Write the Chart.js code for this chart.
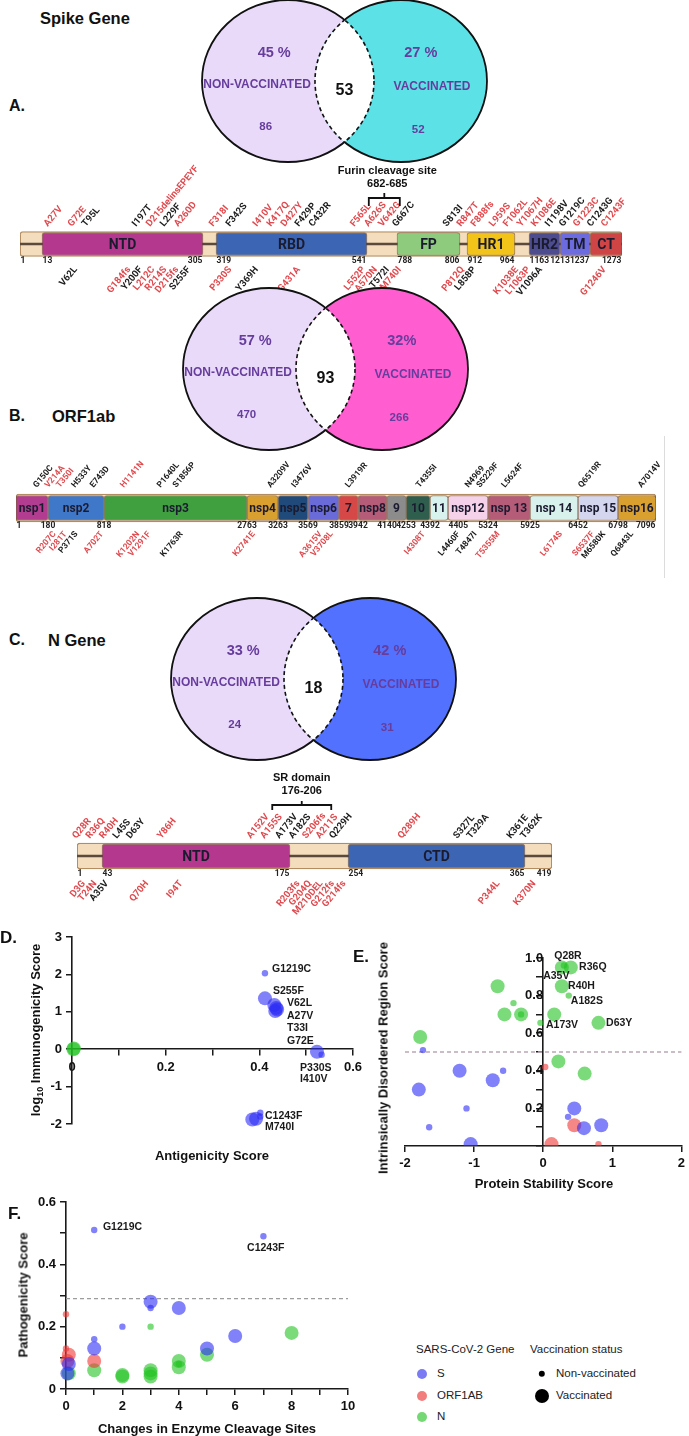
<!DOCTYPE html>
<html>
<head>
<meta charset="utf-8">
<title>SARS-CoV-2 mutations – vaccinated vs non-vaccinated</title>
<script src="https://cdn.jsdelivr.net/npm/chart.js@4.4.1/dist/chart.umd.min.js"></script>
<style>
  html, body { margin: 0; padding: 0; background: #fff; }
  #fig { position: relative; width: 689px; height: 1436px; overflow: hidden; background: #fff;
         font-family: "Liberation Sans", Arial, Helvetica, sans-serif; }
  #fig canvas { position: absolute; }
  .t { position: absolute; white-space: nowrap; font-weight: bold; color: #111; line-height: 1; }
  .sb { font-size: 9px; position: relative; top: 3px; }
  .dot { position: absolute; border-radius: 50%; transform: translate(-50%, -50%); }
  .edge { position: absolute; width: 1px; background: #dcdcdc; }
</style>
</head>
<body>
<div id="fig"></div>
<script>
// ======================= DATA =======================
// Venn diagrams: [non-vaccinated only, shared, vaccinated only]
const vennSets = ['NON-VACCINATED', 'VACCINATED'];
const spikeVennCounts = [86, 53, 52];
const spikeVennPct = ['45 %', '27 %'];
const orfVennCounts = [470, 93, 266];
const orfVennPct = ['57 %', '32%'];
const nVennCounts = [24, 18, 31];
const nVennPct = ['33 %', '42 %'];

// Spike gene map
const spikeLength = 1273;
const spikeDomains = ['NTD', 'RBD', 'FP', 'HR1', 'HR2', 'TM', 'CT'];
const spikeDomainStart = [13, 319, 788, 912, 1163, 1213, 1237];
const spikeDomainEnd = [305, 541, 806, 964, 1213, 1237, 1273];
const spikeTicks = [1, 13, 305, 319, 541, 788, 806, 912, 964, 1163, 1213, 1237, 1273];
const spikeFurin = [682, 685];
const spikeMutAbove = ['A27V','G72E','T95L','I197T','D215delinsEPEYF','L229F','A260D','F318I','F342S','I410V','K417Q','D427Y','F429P','C432R','F565L','A626S','V642G','G667C','S813I','R847T','F888fs','L959S','F1062L','Y1067H','K1086E','I1198V','G1219C','G1223C','C1243G','C1243F'];
const spikeMutAboveHi = [1,1,0,0,1,0,1,1,0,1,1,1,0,0,1,1,1,0,0,1,1,1,1,1,1,0,0,1,0,1];
const spikeMutBelow = ['V62L','G184fs','Y200F','L212C','R214S','D215fs','S255F','P330S','Y369H','G431A','L552P','A570N','T572I','M740I','P812Q','L858P','K1038E','L1063P','V1096A','G1246V'];
const spikeMutBelowHi = [0,1,0,1,1,1,0,1,0,1,1,1,0,1,1,0,1,1,0,1];

// ORF1ab gene map
const orfLength = 7096;
const orfDomains = ['nsp1','nsp2','nsp3','nsp4','nsp5','nsp6','7','nsp8','9','10','11','nsp12','nsp 13','nsp 14','nsp 15','nsp16'];
const orfBounds = [1, 180, 818, 2763, 3263, 3569, 3859, 3942, 4140, 4253, 4392, 4405, 5324, 5925, 6452, 6798, 7096];
const orfMutAbove = ['G150C','V214A','T350I','H533Y','E743D','H1141N','P1640L','S1856P','A3209V','I3476V','L3919R','T4355I','N4969','S5229F','L5624F','Q6519R','A7014V'];
const orfMutAboveHi = [0,1,1,0,0,1,0,0,0,0,0,0,0,0,0,0,0];
const orfMutBelow = ['R207C','I281T','P371S','A702T','K1202N','V1291F','K1763R','K2741E','A3615V','V3708L','I4308T','L4460F','T4847I','T5355M','L6174S','M6580K','S6537F','Q6843L'];
const orfMutBelowHi = [1,1,0,1,1,1,0,1,1,1,1,0,0,1,1,0,1,0];

// N gene map
const nLength = 419;
const nDomains = ['NTD', 'CTD'];
const nDomainStart = [43, 254];
const nDomainEnd = [175, 365];
const nTicks = [1, 43, 175, 254, 365, 419];
const nSR = [176, 206];
const nMutAbove = ['Q28R','R36Q','R40H','L45S','D63Y','Y86H','A152V','A155S','A173V','A182S','S206fs','A211S','Q229H','Q289H','S327L','T329A','K361E','T362K'];
const nMutAboveHi = [1,1,1,0,0,1,1,1,0,0,1,1,0,1,0,0,0,0];
const nMutBelow = ['D3G','T24N','A35V','Q70H','I94T','R203fs','G204Q','M210DEL','G212fs','G214fs','P344L','K370N'];
const nMutBelowHi = [1,1,0,1,1,1,1,1,1,1,1,1];

// Bubble panels: [x, y, status] with status n = non-vaccinated, v = vaccinated
const geneNames = ['S', 'ORF1AB', 'N'];
const statusNames = ['Non-vaccinated', 'Vaccinated'];

// D: antigenicity vs log10 immunogenicity
const dS = [[0.412,2.03,'n'],[0.412,1.36,'v'],[0.432,1.18,'v'],[0.436,1.10,'v'],[0.434,1.02,'v'],[0.438,1.06,'v'],
            [0.523,-0.07,'v'],[0.533,-0.15,'n'],[0.385,-1.88,'v'],[0.393,-1.86,'v'],[0.402,-1.70,'n'],[0.402,-1.80,'n']];
const dORF = [];
const dN = [[0.003,0.0,'v'],[0.004,0.02,'v']];
const dLabels = [['G1219C',0.427,2.13],['S255F',0.429,1.55],['V62L',0.459,1.23],['A27V',0.459,0.88],['T33I',0.459,0.56],
                 ['G72E',0.459,0.21],['P330S',0.487,-0.51],['I410V',0.487,-0.80],['C1243F',0.412,-1.79],['M740I',0.412,-2.08]];

// E: protein stability vs intrinsically disordered region score
const eS = [[-1.74,0.51,'n'],[-1.80,0.30,'v'],[-1.65,0.10,'n'],[-1.21,0.40,'v'],[-1.11,0.20,'n'],[-1.05,0.01,'v'],
            [-0.73,0.35,'v'],[-0.58,0.40,'n'],[0.45,0.20,'v'],[0.36,0.155,'n'],[0.59,0.095,'v'],[0.84,0.11,'v']];
const eORF = [[0.03,0.42,'n'],[0.45,0.11,'v'],[0.12,0.01,'v'],[0.80,0.01,'n']];
const eN = [[0.27,0.95,'v'],[0.40,0.95,'v'],[0.30,0.96,'n'],[0.27,0.85,'v'],[0.37,0.80,'n'],[-0.66,0.85,'v'],
            [-0.43,0.76,'n'],[-0.56,0.70,'v'],[-0.32,0.70,'v'],[-0.32,0.70,'n'],[0.16,0.70,'v'],[-0.04,0.655,'n'],
            [0.80,0.655,'v'],[-1.78,0.58,'v'],[0.22,0.45,'v'],[0.60,0.385,'v']];
const eLabels = [['Q28R',0.16,1.01],['R36Q',0.52,0.95],['A35V',0.0,0.905],['R40H',0.36,0.85],['A182S',0.40,0.77],
                 ['A173V',0.04,0.645],['D63Y',0.91,0.655]];
const eThreshold = 0.5;

// F: changes in enzyme cleavage sites vs pathogenicity
const fS = [[1,0.51,'n'],[7,0.49,'n'],[3,0.28,'v'],[3,0.26,'n'],[4,0.26,'v'],[2,0.20,'n'],[1,0.16,'n'],[1,0.13,'v'],
            [6,0.17,'v'],[5,0.13,'v'],[0.1,0.08,'v'],[0.05,0.05,'v']];
const fORF = [[0,0.24,'n'],[0.1,0.11,'v'],[0.05,0.09,'v'],[1,0.09,'v'],[0,0.13,'n']];
const fN = [[3,0.20,'n'],[8,0.18,'v'],[5,0.11,'v'],[4,0.09,'v'],[4,0.08,'n'],[4,0.07,'v'],[3,0.06,'v'],[3,0.05,'v'],
            [3,0.04,'v'],[2,0.04,'v'],[2,0.045,'v'],[1,0.06,'v'],[0.1,0.05,'v']];
const fLabels = [['G1219C',1.31,0.52],['C1243F',6.42,0.452]];
const fThreshold = 0.29;

// ======================= STYLE / LAYOUT =======================
const FONT = '"Liberation Sans", Arial, Helvetica, sans-serif';
const MAPFONT = 'Roboto, "Liberation Sans", Arial, sans-serif';
const RED = '#e04a4f', DARK = '#1c1c1c', PURPLE = '#663d9c';
const GENE_FILL = ['rgba(45,45,245,0.6)', 'rgba(240,55,55,0.6)', 'rgba(35,195,35,0.6)'];
const GENE_SWATCH = ['#7b7bf3', '#f27d7d', '#74d874'];
const STATUS_R = {n: 3.2, v: 7};
const ANG = 50 * Math.PI / 180;
const TAN = '#f3ddbd', TAN_EDGE = '#b38c62';

Chart.defaults.font.family = FONT;
Chart.defaults.color = '#111';

const fig = document.getElementById('fig');
function makeCanvas(left, top, w, h, key) {
  const c = document.createElement('canvas');
  c.width = w; c.height = h;
  c.style.left = left + 'px'; c.style.top = top + 'px';
  c.style.width = w + 'px'; c.style.height = h + 'px';
  if (key) c.dataset.map = key;
  fig.appendChild(c);
  return c;
}
function addText(html, x, y, o = {}) {
  const d = document.createElement('div');
  d.className = 't';
  d.innerHTML = html;
  const s = d.style;
  s.left = x + 'px'; s.top = y + 'px';
  s.fontSize = (o.size || 12) + 'px';
  if (o.weight) s.fontWeight = o.weight;
  if (o.color) s.color = o.color;
  const ax = o.ax === undefined ? 0.5 : o.ax;
  s.transform = `translate(${-ax * 100}%, -50%)` + (o.rot ? ` rotate(${o.rot}deg)` : '');
  fig.appendChild(d);
  return d;
}
const resNum = m => parseInt(m.match(/\d+/)[0], 10);

// ---------- custom schematic scale (piecewise residue -> position) ----------
const MAP_ANCHORS = {};
class SchematicScale extends Chart.LinearScale {
  _anc() { return MAP_ANCHORS[this.chart.canvas.dataset.map]; }
  getPixelForValue(v) {
    const a = this._anc();
    if (v === null || v === undefined || isNaN(v)) return NaN;
    let f;
    if (v <= a[0][0]) f = a[0][1];
    else if (v >= a[a.length - 1][0]) f = a[a.length - 1][1];
    else {
      for (let i = 1; i < a.length; i++) {
        if (v <= a[i][0]) { f = a[i-1][1] + (v - a[i-1][0]) / (a[i][0] - a[i-1][0]) * (a[i][1] - a[i-1][1]); break; }
      }
    }
    return this.getPixelForDecimal(f);
  }
  getValueForPixel(p) {
    const a = this._anc(), f = this.getDecimalForPixel(p);
    for (let i = 1; i < a.length; i++) {
      if (f <= a[i][1]) return a[i-1][0] + (f - a[i-1][1]) / (a[i][1] - a[i-1][1]) * (a[i][0] - a[i-1][0]);
    }
    return a[a.length - 1][0];
  }
}
SchematicScale.id = 'schematic';
SchematicScale.defaults = Chart.LinearScale.defaults;
Chart.register(SchematicScale);

// spread label anchors so rotated labels do not overlap
function spread(xs, d, lo, hi) {
  const idx = xs.map((x, i) => i).sort((a, b) => xs[a] - xs[b]);
  const p = idx.map(i => xs[i]);
  for (let it = 0; it < 400; it++) {
    let moved = false;
    for (let k = 0; k < p.length - 1; k++) {
      const gap = p[k + 1] - p[k];
      if (gap < d - 0.01) { const s = (d - gap) / 2; p[k] -= s; p[k + 1] += s; moved = true; }
    }
    for (let k = 0; k < p.length; k++) p[k] = Math.min(hi, Math.max(lo, p[k]));
    if (!moved) break;
  }
  const out = new Array(xs.length);
  idx.forEach((i, k) => { out[i] = p[k]; });
  return out;
}

// ---------- Venn diagrams ----------
const VENN = {rx: 86, ry: 81, half: 0.657, lw: 1.8};
const VENN_TXT = {pctL: [-0.16, -0.35], labL: [-0.36, 0.04], cntL: [-0.26, 0.57], shared: [0, 0.12],
                  pctR: [0.23, -0.35], labR: [0.36, 0.07], cntR: [0.20, 0.60]};
function vennPlugin(counts, pct, fills) {
  return {
    id: 'venn',
    afterDatasetsDraw(chart) {
      const ctx = chart.ctx, xs = chart.scales.x, ys = chart.scales.y;
      const pts = chart.getDatasetMeta(0).data;
      const cxL = pts[0].x, cxR = pts[1].x, cy = pts[0].y;
      const rx = xs.getPixelForValue(1) - xs.getPixelForValue(0);
      const ry = ys.getPixelForValue(0) - ys.getPixelForValue(1);
      const ell = cx => { const p = new Path2D(); p.ellipse(cx, cy, rx, ry, 0, 0, Math.PI * 2); return p; };
      const L = ell(cxL), R = ell(cxR);
      const outside = P => { const q = new Path2D(); q.rect(-5, -5, chart.width + 10, chart.height + 10); q.addPath(P); return q; };
      ctx.save();
      ctx.fillStyle = fills[0]; ctx.fill(L);
      ctx.fillStyle = fills[1]; ctx.fill(R);
      ctx.save(); ctx.clip(L); ctx.fillStyle = '#fff'; ctx.fill(R); ctx.restore();
      ctx.lineWidth = VENN.lw; ctx.strokeStyle = '#111';
      ctx.save(); ctx.clip(outside(R), 'evenodd'); ctx.stroke(L); ctx.restore();
      ctx.save(); ctx.clip(outside(L), 'evenodd'); ctx.stroke(R); ctx.restore();
      ctx.setLineDash([4, 3]); ctx.lineWidth = 1.6;
      ctx.save(); ctx.clip(L); ctx.stroke(R); ctx.restore();
      ctx.save(); ctx.clip(R); ctx.stroke(L); ctx.restore();
      ctx.setLineDash([]);
      ctx.textAlign = 'center'; ctx.textBaseline = 'middle';
      const put = (txt, key, ox, font, color) => {
        ctx.font = font; ctx.fillStyle = color;
        ctx.fillText(txt, ox + VENN_TXT[key][0] * rx, cy + VENN_TXT[key][1] * ry);
      };
      put(pct[0], 'pctL', cxL, `bold 14.5px ${FONT}`, PURPLE);
      put(vennSets[0], 'labL', cxL, `bold 12px ${FONT}`, PURPLE);
      put(String(counts[0]), 'cntL', cxL, `bold 11.5px ${FONT}`, PURPLE);
      put(String(counts[1]), 'shared', (cxL + cxR) / 2, `bold 16px ${FONT}`, '#111');
      put(pct[1], 'pctR', cxR, `bold 14.5px ${FONT}`, PURPLE);
      put(vennSets[1], 'labR', cxR, `bold 12px ${FONT}`, PURPLE);
      put(String(counts[2]), 'cntR', cxR, `bold 11.5px ${FONT}`, PURPLE);
      ctx.restore();
    }
  };
}
function drawVenn(midX, cy, counts, pct, fills) {
  const w = Math.round(2 * VENN.rx * (1 + VENN.half)) + 6, h = 2 * VENN.ry + 6;
  const c = makeCanvas(Math.round(midX - w / 2), Math.round(cy - h / 2), w, h);
  new Chart(c, {
    type: 'scatter',
    data: {datasets: [{data: [{x: -VENN.half, y: 0}, {x: VENN.half, y: 0}], pointRadius: 0}]},
    options: {
      responsive: false, animation: false, events: [],
      layout: {padding: 3},
      plugins: {legend: {display: false}, tooltip: {enabled: false}},
      scales: {x: {display: false, min: -(1 + VENN.half), max: 1 + VENN.half},
               y: {display: false, min: -1, max: 1}}
    },
    plugins: [vennPlugin(counts, pct, fills)]
  });
}

// ---------- Gene maps ----------
function geneMapPlugin(g) {
  return {
    id: 'geneMap',
    afterDatasetsDraw(chart) {
      const ctx = chart.ctx, xs = chart.scales.x;
      const cy = chart.scales.y.getPixelForValue(0);
      const top = cy - g.tanT / 2, bot = cy + g.tanT / 2;
      const area = chart.chartArea;
      ctx.save();
      ctx.textAlign = 'center'; ctx.textBaseline = 'middle';
      ctx.font = g.domainFont; ctx.fillStyle = '#1b1b30';
      g.names.forEach((n, i) => {
        ctx.fillText(n, (xs.getPixelForValue(g.starts[i]) + xs.getPixelForValue(g.ends[i])) / 2, cy + 1);
      });
      ctx.font = g.numFont; ctx.fillStyle = '#222';
      g.ticks.forEach((t, i) => {
        const al = g.tickAlign[i];
        ctx.textAlign = al;
        const px = xs.getPixelForValue(t) + (al === 'left' ? 0.5 : al === 'right' ? -0.5 : 0);
        ctx.fillText(String(t), px, bot + g.numGap);
      });
      ctx.font = g.mutFont;
      const drawSet = (names, hi, above) => {
        const raw = names.map(m => xs.getPixelForValue(resNum(m)));
        const pos = spread(raw, above ? g.dAbove : g.dBelow, area.left - 6, area.right + 8);
        names.forEach((m, i) => {
          ctx.save();
          ctx.fillStyle = hi[i] ? RED : DARK;
          if (above) {
            ctx.translate(pos[i] + g.dxAbove, top - g.gapAbove);
            ctx.rotate(-ANG); ctx.textAlign = 'left'; ctx.textBaseline = 'alphabetic';
          } else {
            ctx.translate(pos[i] + g.dxBelow, bot + g.gapBelow);
            ctx.rotate(-ANG); ctx.textAlign = 'right'; ctx.textBaseline = 'top';
          }
          ctx.fillText(m, 0, 0);
          ctx.restore();
        });
      };
      drawSet(g.above, g.aboveHi, true);
      drawSet(g.below, g.belowHi, false);
      if (g.bracket) {
        const mid = xs.getPixelForValue((g.bracket[0] + g.bracket[1]) / 2);
        const yb = top - g.bracketRise, w = g.bracketHalf;
        ctx.strokeStyle = '#111'; ctx.lineWidth = 1.8;
        ctx.beginPath();
        ctx.moveTo(mid - w, yb + g.bracketLeg); ctx.lineTo(mid - w, yb); ctx.lineTo(mid + w, yb); ctx.lineTo(mid + w, yb + g.bracketLeg);
        ctx.moveTo(mid, yb); ctx.lineTo(mid, yb - g.bracketNub);
        ctx.stroke();
      }
      ctx.restore();
    }
  };
}
function drawGeneMap(g) {
  const [left, top, w, h] = g.box;
  MAP_ANCHORS[g.key] = g.anchorRes.map((r, i) => [r, (g.anchorPx[i] - g.anchorPx[0]) / (g.anchorPx[g.anchorPx.length - 1] - g.anchorPx[0])]);
  const c = makeCanvas(left, top, w, h, g.key);
  const datasets = [{data: [[1, g.length]], backgroundColor: TAN, borderColor: TAN_EDGE, borderWidth: 1.3,
                     barThickness: g.tanT, borderRadius: 3, grouped: false, borderSkipped: false, order: 3}];
  if (g.backbone) datasets.push({data: [[1, g.length]], backgroundColor: '#5b4a3c', borderWidth: 0,
                                 barThickness: 2, grouped: false, order: 2});
  g.names.forEach((n, i) => datasets.push({
    data: [[g.starts[i], g.ends[i]]], backgroundColor: g.colors[i], borderColor: 'rgba(80,50,30,0.55)',
    borderWidth: 1, barThickness: g.boxT, borderRadius: 3, grouped: false, borderSkipped: false, order: 1
  }));
  return new Chart(c, {
    type: 'bar',
    data: {labels: ['gene'], datasets},
    options: {
      indexAxis: 'y', responsive: false, animation: false, events: [],
      layout: {padding: {left: g.anchorPx[0] - left, right: left + w - g.anchorPx[g.anchorPx.length - 1], top: 0, bottom: 0}},
      plugins: {legend: {display: false}, tooltip: {enabled: false}},
      scales: {x: {type: 'schematic', min: 1, max: g.length, display: false}, y: {display: false}}
    },
    plugins: [geneMapPlugin(g)]
  });
}

// ---------- Bubble panels ----------
function annotPlugin(labels, threshold, dashColor) {
  return {
    id: 'annot',
    beforeDatasetsDraw(chart) {
      if (threshold === null) return;
      const ctx = chart.ctx, a = chart.chartArea, py = chart.scales.y.getPixelForValue(threshold);
      ctx.save();
      ctx.strokeStyle = dashColor; ctx.lineWidth = 1.3; ctx.setLineDash([4, 3]);
      ctx.beginPath(); ctx.moveTo(a.left, py); ctx.lineTo(a.right, py); ctx.stroke();
      ctx.restore();
    },
    afterDatasetsDraw(chart) {
      const ctx = chart.ctx, xs = chart.scales.x, ys = chart.scales.y;
      ctx.save();
      ctx.font = `bold 10.5px ${FONT}`; ctx.fillStyle = '#1a1a1a';
      ctx.textAlign = 'left'; ctx.textBaseline = 'middle';
      labels.forEach(([t, lx, ly]) => ctx.fillText(t, xs.getPixelForValue(lx), ys.getPixelForValue(ly)));
      ctx.restore();
    }
  };
}
function axis(min, max, step, cb, extra) {
  return Object.assign({
    type: 'linear', min, max,
    grid: {display: true, drawOnChartArea: false, drawTicks: true, tickLength: 6, color: '#1a1a1a', lineWidth: 1.5},
    border: {display: true, color: '#1a1a1a', width: 1.6},
    ticks: {stepSize: step, callback: cb, font: {size: 13, weight: 'bold', family: FONT}, color: '#111',
            padding: 4, autoSkip: false, maxRotation: 0, minRotation: 0}
  }, extra || {});
}
const evenTenth = v => { const k = Math.round(v * 10); return k % 2 === 0 ? (k === 0 ? '0' : (k / 10).toFixed(1)) : ''; };
function bubblePanel(box, sets, scales, padding, labels, threshold, dashColor, clip) {
  const c = makeCanvas(...box);
  const datasets = sets.map((pts, i) => ({
    label: geneNames[i],
    data: pts.map(([x, y, s]) => ({x, y, r: STATUS_R[s]})),
    backgroundColor: GENE_FILL[i], borderWidth: 0, clip
  }));
  return new Chart(c, {
    type: 'bubble',
    data: {datasets},
    options: {
      responsive: false, animation: false, events: [],
      layout: {padding, autoPadding: false},
      plugins: {legend: {display: false}, tooltip: {enabled: false}},
      scales
    },
    plugins: [annotPlugin(labels, threshold, dashColor)]
  });
}

// ======================= BUILD =======================
// --- A: Spike ---
addText('Spike Gene', 40, 18, {size: 16.5, ax: 0});
addText('A.', 9, 106, {size: 16, ax: 0});
drawVenn(344.5, 81, spikeVennCounts, spikeVennPct, ['#e9dafa', '#5ce1e6']);
const spikeChart = drawGeneMap({
  key: 'spike', box: [0, 150, 689, 188], length: spikeLength,
  anchorRes: spikeTicks, anchorPx: [20, 42, 203, 216, 367, 397, 460, 467, 515, 529, 560, 590, 622],
  names: spikeDomains, starts: spikeDomainStart, ends: spikeDomainEnd,
  colors: ['#b3388e', '#3c66b3', '#8ecb7d', '#f2c41a', '#4c4c8e', '#6c6ce0', '#cf4545'],
  ticks: spikeTicks, tickAlign: ['left','left','right','left','right','left','right','left','right','left','center','right','right'],
  above: spikeMutAbove, aboveHi: spikeMutAboveHi, below: spikeMutBelow, belowHi: spikeMutBelowHi,
  tanT: 25, boxT: 23, backbone: true,
  domainFont: `bold 14px ${MAPFONT}`, numFont: `bold 8.5px ${MAPFONT}`, mutFont: `bold 9.5px ${MAPFONT}`,
  numGap: 4.5, gapAbove: 4.5, gapBelow: 8.5, dxAbove: -2, dxBelow: 3, dAbove: 14, dBelow: 12,
  bracket: spikeFurin, bracketRise: 33.5, bracketHalf: 15.5, bracketLeg: 8, bracketNub: 5
});
{
  const bx = spikeChart.scales.x.getPixelForValue((spikeFurin[0] + spikeFurin[1]) / 2) + 3;
  addText('Furin cleavage site', bx, 170, {size: 11});
  addText(spikeFurin.join('-'), bx, 183, {size: 11});
}

// --- B: ORF1ab ---
addText('B.', 9, 416, {size: 16, ax: 0});
addText('ORF1ab', 52, 416, {size: 16.5, ax: 0});
drawVenn(325.5, 369, orfVennCounts, orfVennPct, ['#e9dafa', '#ff5dd0']);
drawGeneMap({
  key: 'orf', box: [0, 436, 689, 144], length: orfLength,
  anchorRes: orfBounds, anchorPx: [16, 48, 104, 247, 278, 308, 339, 358, 387, 406, 430, 448, 488, 530, 578, 618, 656],
  names: orfDomains, starts: orfBounds.slice(0, -1), ends: orfBounds.slice(1),
  colors: ['#b23c8f', '#3f78c8', '#40a040', '#d9a030', '#1f4a7a', '#6a6ad8', '#d64848', '#b55c78', '#8c8c8c',
           '#2f5e4e', '#d8f2ee', '#f6d2ea', '#b55c78', '#d8f1ed', '#d4d6ef', '#d9a030'],
  ticks: orfBounds, tickAlign: orfBounds.map((b, i) => i === 0 ? 'left' : i === orfBounds.length - 1 ? 'right' : (b === 4405 ? 'left' : 'center')),
  above: orfMutAbove, aboveHi: orfMutAboveHi, below: orfMutBelow, belowHi: orfMutBelowHi,
  tanT: 28, boxT: 25, backbone: false,
  domainFont: `bold 12px ${MAPFONT}`, numFont: `bold 8.5px ${MAPFONT}`, mutFont: `bold 8.5px ${MAPFONT}`,
  numGap: 4, gapAbove: 6, gapBelow: 8, dxAbove: -4, dxBelow: 5, dAbove: 11.5, dBelow: 11
});
{
  const e = document.createElement('div');
  e.className = 'edge';
  Object.assign(e.style, {left: '664px', top: '436px', height: '142px'});
  fig.appendChild(e);
}

// --- C: N gene ---
addText('C.', 9, 640, {size: 16, ax: 0});
addText('N Gene', 48, 640, {size: 16.5, ax: 0});
drawVenn(313.5, 679, nVennCounts, nVennPct, ['#e9dafa', '#5271ff']);
const nChart = drawGeneMap({
  key: 'ngene', box: [0, 770, 689, 172], length: nLength,
  anchorRes: nTicks, anchorPx: [77, 102, 290, 348, 525, 552],
  names: nDomains, starts: nDomainStart, ends: nDomainEnd,
  colors: ['#b3388e', '#3c66b3'],
  ticks: nTicks, tickAlign: ['left', 'left', 'right', 'left', 'right', 'right'],
  above: nMutAbove, aboveHi: nMutAboveHi, below: nMutBelow, belowHi: nMutBelowHi,
  tanT: 26, boxT: 24, backbone: true,
  domainFont: `bold 14px ${MAPFONT}`, numFont: `bold 8.5px ${MAPFONT}`, mutFont: `bold 9.5px ${MAPFONT}`,
  numGap: 4.5, gapAbove: 4, gapBelow: 10, dxAbove: -2, dxBelow: 3, dAbove: 13.5, dBelow: 11.5,
  bracket: nSR, bracketRise: 38, bracketHalf: 29.5, bracketLeg: 5, bracketNub: 4
});
{
  const bx = nChart.scales.x.getPixelForValue((nSR[0] + nSR[1]) / 2);
  addText('SR domain', bx, 777, {size: 11});
  addText(nSR.join('-'), bx, 790, {size: 11});
}

// --- D ---
addText('D.', 0, 937, {size: 17, ax: 0});
bubblePanel([0, 925, 370, 215], [dS, dORF, dN], {
  x: axis(0, 0.6, 0.1, evenTenth, {position: {y: 0}}),
  y: axis(-2, 3, 1, v => String(v), {afterFit: s => { s.width = 72; }})
}, {top: 12, right: 17, bottom: 16, left: 0}, dLabels, null, '#999', false);
addText('log<span class="sb">10</span> Immunogenicity Score', 35, 1030, {size: 13, rot: -90});
addText('Antigenicity Score', 212, 1155, {size: 13});

// --- E ---
addText('E.', 353, 956, {size: 17, ax: 0});
bubblePanel([388, 945, 301, 229], [eS, eORF, eN], {
  x: axis(-2, 2, 1, v => String(v), {afterFit: s => { s.height = 28; }}),
  y: axis(0, 1, 0.1, v => { const k = Math.round(v * 10); return (k % 2 === 0 && k > 0) ? (k / 10).toFixed(1) : ''; },
          {position: {x: 0}})
}, {top: 13, right: 6, bottom: 0, left: 17}, eLabels, eThreshold, '#b9a8b2', 0);
addText('Intrinsically Disordered Region Score', 383, 1058, {size: 13, rot: -90});
addText('Protein Stability Score', 544, 1183, {size: 13});

// --- F ---
addText('F.', 8, 1213, {size: 17, ax: 0});
bubblePanel([0, 1190, 370, 230], [fS, fORF, fN], {
  x: axis(0, 10, 1, v => (v % 2 === 0 ? String(v) : ''), {afterFit: s => { s.height = 31; }}),
  y: axis(0, 0.6, 0.1, evenTenth, {afterFit: s => { s.width = 66; }})
}, {top: 12, right: 22, bottom: 0, left: 0}, fLabels, fThreshold, '#9d9d9d', false);
addText('Pathogenicity Score', 23, 1295, {size: 13, rot: -90});
addText('Changes in Enzyme Cleavage Sites', 207, 1428, {size: 13});

// --- F legend ---
const LEG = {x1: 416, x2: 530, yTitle: 1350, rows: [1374, 1396, 1417], size: 11.5};
addText('SARS-CoV-2 Gene', LEG.x1, LEG.yTitle, {size: LEG.size, weight: 'normal', ax: 0, color: '#222'});
geneNames.forEach((g, i) => {
  const d = document.createElement('div');
  d.className = 'dot';
  Object.assign(d.style, {left: (LEG.x1 + 6) + 'px', top: LEG.rows[i] + 'px', width: '10px', height: '10px', background: GENE_SWATCH[i]});
  fig.appendChild(d);
  addText(g, LEG.x1 + 21, LEG.rows[i], {size: LEG.size, weight: 'normal', ax: 0, color: '#222'});
});
addText('Vaccination status', LEG.x2, LEG.yTitle, {size: LEG.size, weight: 'normal', ax: 0, color: '#222'});
statusNames.forEach((s, i) => {
  const r = STATUS_R[i === 0 ? 'n' : 'v'];
  const d = document.createElement('div');
  d.className = 'dot';
  Object.assign(d.style, {left: (LEG.x2 + 12) + 'px', top: LEG.rows[i] + 'px', width: (2 * r) + 'px', height: (2 * r) + 'px', background: '#000'});
  fig.appendChild(d);
  addText(s, LEG.x2 + 26, LEG.rows[i], {size: LEG.size, weight: 'normal', ax: 0, color: '#222'});
});
</script>
</body>
</html>
